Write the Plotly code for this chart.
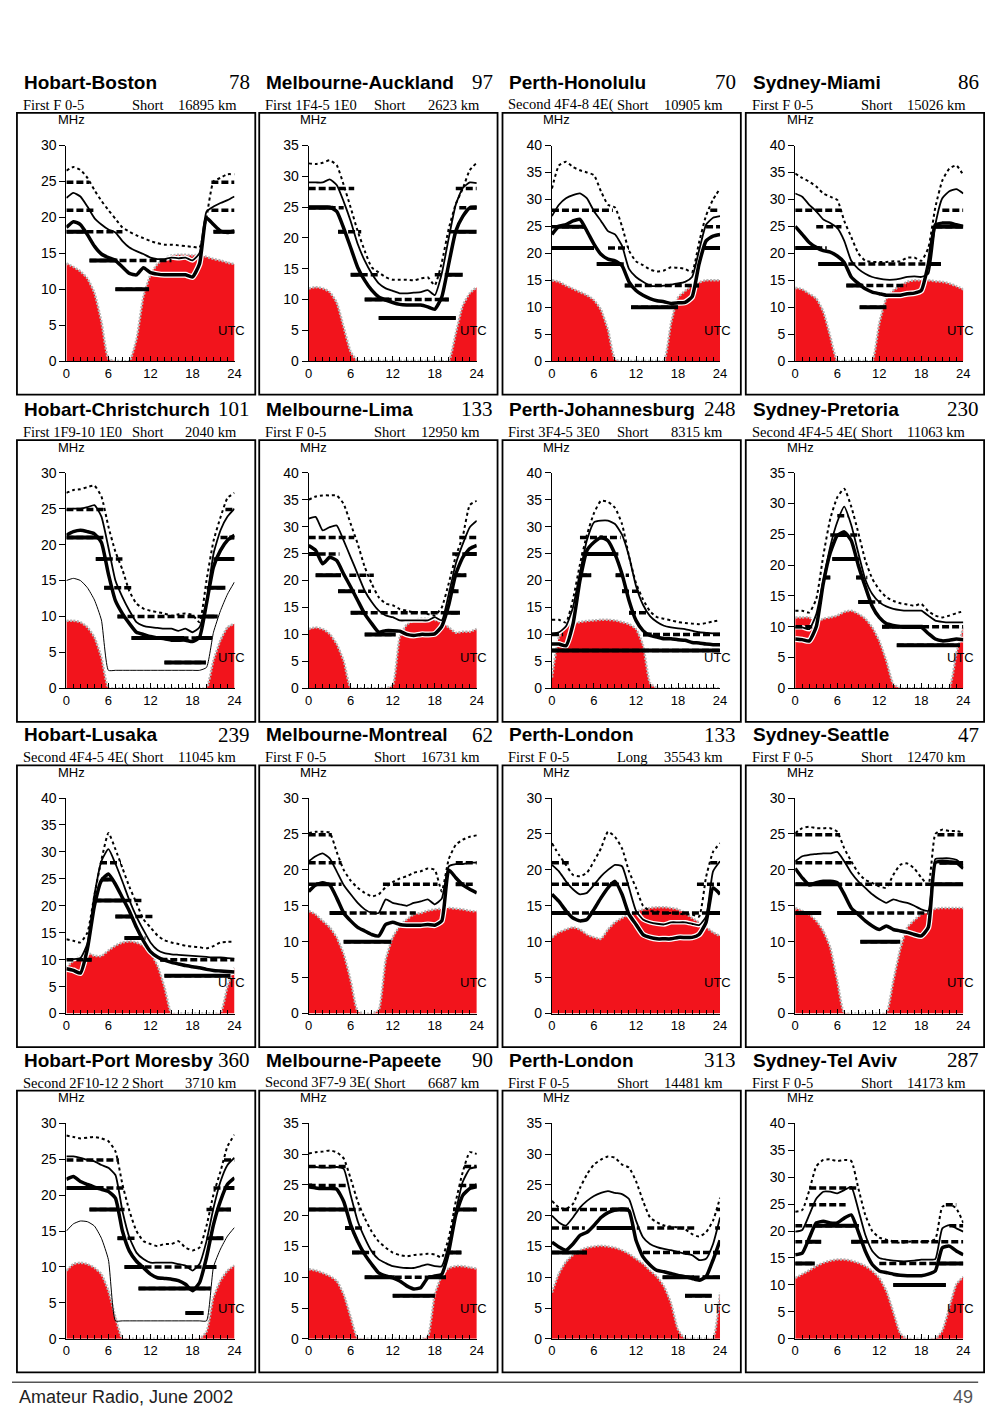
import numpy as np
import plotly.graph_objects as go

# Hours UTC (one value per hour, 0..24)
hours = list(range(25))

paths = ["Hobart-Boston", "Melbourne-Auckland", "Perth-Honolulu", "Sydney-Miami",
         "Hobart-Christchurch", "Melbourne-Lima", "Perth-Johannesburg", "Sydney-Pretoria",
         "Hobart-Lusaka", "Melbourne-Montreal", "Perth-London", "Sydney-Seattle",
         "Hobart-Port Moresby", "Melbourne-Papeete", "Perth-London", "Sydney-Tel Aviv"]
bearings = ["78", "97", "70", "86", "101", "133", "248", "230",
            "239", "62", "133", "47", "360", "90", "313", "287"]
modes = ["First F 0-5", "First 1F4-5 1E0", "Second 4F4-8 4E(", "First F 0-5",
         "First 1F9-10 1E0", "First F 0-5", "First 3F4-5 3E0", "Second 4F4-5 4E(",
         "Second 4F4-5 4E(", "First F 0-5", "First F 0-5", "First F 0-5",
         "Second 2F10-12 2", "Second 3F7-9 3E(", "First F 0-5", "First F 0-5"]
routes = ["Short", "Short", "Short", "Short", "Short", "Short", "Short", "Short",
          "Short", "Short", "Long", "Short", "Short", "Short", "Short", "Short"]
distances = ["16895 km", "2623 km", "10905 km", "15026 km", "2040 km", "12950 km", "8315 km", "11063 km",
             "11045 km", "16731 km", "35543 km", "12470 km", "3710 km", "6687 km", "14481 km", "14173 km"]
y_max = [30, 35, 40, 40, 30, 40, 40, 35, 40, 30, 30, 30, 30, 35, 35, 40]

# upper decile MUF (dotted)
upper = [
    [26.5, 27, 26.6, 25.5, 23.8, 22.3, 21, 19.8, 18.6, 18, 17.5, 17.1, 16.7, 16.4, 16.2, 16.2, 16.1, 16, 15.9, 15.8, 20, 25, 25.5, 26, 26],
    [32.1, 32, 32.2, 32.6, 31.8, 28.6, 24.9, 21.1, 17.9, 15.2, 14.4, 13.6, 13.2, 13.2, 13.2, 13.1, 13.4, 13.6, 12.3, 16, 21.5, 25.5, 28, 31, 32.2],
    [32, 36.3, 37, 36, 35.4, 35, 34.5, 31.5, 29, 28.5, 25, 20.5, 18.5, 17.8, 17, 16.6, 16.8, 17.4, 17.3, 17.1, 16.5, 22, 27, 30, 32],
    [34.8, 34, 33.3, 32.4, 31.1, 30.5, 29.9, 26, 23, 20, 18.6, 18.4, 18.4, 18.4, 18.5, 18.5, 19.2, 19.2, 18.6, 21, 28.5, 33.5, 35.7, 36.3, 34.5],
    [27.2, 27.6, 27.7, 28, 28.2, 26.7, 22.5, 19, 16.5, 13.5, 11.8, 11.1, 10.8, 10.6, 10.4, 10.1, 10.3, 10.4, 10.2, 9.2, 15, 20.5, 23.8, 26.5, 27.2],
    [35, 35.6, 35.8, 35.8, 35.8, 34.2, 30.5, 26.8, 22.5, 19.4, 16.9, 15.7, 15.4, 14.7, 14.4, 14.1, 14.1, 13.8, 13.5, 15, 19.5, 24.5, 28.2, 34, 34.8],
    [12.7, 12.7, 12.2, 16.5, 23, 28.5, 32.5, 34.8, 34.6, 33.5, 30.5, 24.5, 19.5, 16.5, 14.3, 13.2, 12.9, 12.6, 12.3, 12.1, 12, 11.9, 12.1, 12.4, 12.6],
    [12.6, 12.6, 12.3, 14.5, 21.5, 27.5, 31, 32.4, 29.5, 25.3, 20.8, 17.8, 16, 14.8, 14.2, 13.8, 13.6, 13.4, 13.7, 12.5, 11.8, 11.5, 11.8, 12.2, 12.5],
    [13.8, 13.5, 13.2, 15, 22, 28.5, 33.5, 30.5, 27, 23.5, 20.5, 17.5, 16, 14.5, 13.6, 13.2, 12.9, 12.6, 12.4, 12.3, 12.1, 12.5, 13.2, 13.3, 13.3],
    [25.1, 25.3, 25.3, 25.2, 22.5, 20, 18.5, 17.5, 16.8, 16.3, 16.6, 17.6, 18.3, 18.8, 19.1, 19.6, 19.8, 20.2, 20, 17, 21.5, 23.5, 24.2, 24.6, 24.8],
    [23.7, 22.1, 20.7, 19.3, 19.1, 19.6, 21.2, 23, 25.3, 24.6, 23, 19.8, 17.5, 15, 14.3, 14.2, 14, 14, 13.9, 13.8, 13.8, 13.5, 19, 22.5, 23.7],
    [25.1, 25.8, 26, 25.8, 25.8, 25.8, 25.3, 23, 21.2, 19.6, 18.6, 18.2, 17.7, 17.5, 19.3, 20.7, 20.9, 20.2, 18.9, 17.9, 25, 25.6, 25.4, 25.4, 25.2],
    [28.3, 28.1, 27.9, 28, 28.1, 27.9, 27.5, 26.1, 21.5, 17.8, 15, 13.6, 13.2, 12.9, 13.2, 13.2, 13.6, 12.7, 12.3, 12.7, 15.7, 20.1, 23.3, 26.8, 28.4],
    [30.1, 30.3, 30.4, 30.6, 30.3, 29.3, 26, 22.3, 19.6, 17.4, 15.8, 14.8, 14, 13.6, 13.4, 13.6, 13.7, 13.8, 13.7, 13.2, 16.4, 22.3, 27.1, 30.3, 30],
    [22.4, 21.3, 21.1, 21.9, 24.5, 26.7, 28.3, 29.1, 29.6, 29.4, 28.3, 27.8, 25.6, 22.4, 19.7, 18.9, 18.4, 18.2, 18.1, 17.8, 17, 16.6, 17.3, 19.2, 22.9],
    [23.6, 23.9, 27.5, 32, 33.2, 33.3, 33, 33.2, 33, 28, 23, 20, 18.8, 18.4, 18.1, 17.8, 18, 18.1, 18, 18.1, 18.5, 24.5, 25, 24.2, 21.5],
]

# median MUF (thin solid)
median = [
    [22.7, 23.4, 22.9, 21.5, 19.9, 19, 18.3, 17.9, 16.7, 15.8, 15.3, 14.9, 14.4, 14.2, 14.2, 14.4, 14.3, 14.4, 14, 15, 20.8, 21.5, 22, 22.4, 22.9],
    [29, 29, 29, 29.5, 28.6, 25.9, 22.7, 19, 16.3, 14.2, 12.6, 11.8, 11.4, 11, 11, 11.1, 11.2, 11.5, 10.7, 14.2, 20, 25.4, 28.1, 29, 28.9],
    [26.9, 29, 30.2, 30.8, 31.1, 30.2, 27.8, 26, 24.1, 23.5, 21.4, 17.1, 15.6, 14.7, 14, 13.9, 14, 14.2, 14.4, 14.7, 15.6, 20.5, 25.3, 26.6, 26.9],
    [31.1, 30.5, 29, 27.8, 26.3, 25.6, 24.7, 22.3, 18.6, 17.1, 16.2, 15.6, 15.3, 15.1, 15.1, 15.3, 15.6, 15.7, 15.6, 16.2, 25.3, 30.2, 31.5, 31.9, 31.1],
    [24.8, 25, 25, 25.2, 25.5, 23.9, 19.6, 15, 12.7, 10.8, 9.2, 8.7, 8.5, 8.4, 8.3, 8.3, 8, 8.3, 7.8, 8.5, 12.2, 18.7, 22, 23.9, 25],
    [31.5, 31.8, 29.3, 29.9, 30.2, 27.4, 24.3, 21.2, 18.1, 16, 14.4, 13.5, 13.2, 12.6, 12.6, 12.6, 12.6, 12.6, 13.2, 12.6, 17.5, 23.1, 26.8, 29.9, 31.1],
    [10.2, 10.4, 11.5, 15, 21.5, 27.5, 30.8, 31.1, 31.1, 30.5, 28.5, 24.5, 19, 15.5, 13.4, 12.3, 11.6, 11.3, 11.1, 11, 10.7, 10.4, 10.3, 10.2, 10.2],
    [9.9, 9.9, 9.6, 12, 17.5, 23, 27, 29.5, 26.5, 22, 17.7, 15.3, 14, 13.3, 12.9, 12.7, 12.6, 12.6, 12.6, 11.8, 11, 10.8, 10.7, 10.7, 10.7],
    [10.1, 10.1, 10.3, 13, 22, 28.3, 30.5, 27.8, 24.5, 21, 18, 15.5, 13.2, 11.8, 11.2, 11, 10.9, 10.8, 10.7, 10.6, 10.5, 10.4, 10.4, 10.3, 10.2],
    [21.2, 21.9, 22.3, 21.6, 19.8, 17.9, 16.6, 15.4, 14.5, 14, 14, 15.9, 15.4, 15.2, 15, 15.4, 15.6, 15.9, 15.2, 16, 20.5, 20.8, 20.8, 21, 21],
    [20.7, 19.8, 18.4, 17.3, 16.6, 16.8, 17.9, 19.1, 20, 20.7, 20.5, 17.5, 14.3, 13.1, 12.7, 12.5, 12.4, 12.7, 12.7, 12.7, 12.5, 12.3, 13.5, 19.8, 21.2],
    [21.2, 21.9, 22.1, 22.2, 22.3, 22.3, 22.5, 21.2, 19.6, 18.4, 17.5, 16.6, 15.9, 15.4, 15.9, 15.6, 15.4, 15, 14.5, 14.3, 21.5, 21.6, 21.6, 21.4, 20.6],
    [25.4, 25.4, 25.2, 24.9, 24.7, 24.2, 23.8, 22.8, 17.8, 14.1, 12, 11.1, 10.6, 10.6, 10.6, 10.6, 10.4, 10.2, 9.5, 10.4, 13.6, 18.2, 21.9, 24.2, 25.2],
    [27.9, 27.9, 27.8, 27.8, 27.9, 27.6, 23.3, 19.1, 16.4, 14.2, 12.9, 12.3, 11.8, 11.6, 11.5, 11.5, 11.8, 12.1, 11.8, 11.8, 15.3, 20.7, 25.5, 27.6, 27.9],
    [20, 18.9, 18.4, 19.7, 21.3, 22.4, 23.2, 23.7, 24, 23.7, 23.5, 22.7, 19.2, 16.5, 15.4, 14.9, 14.6, 14.4, 14.1, 13.8, 13.6, 12.8, 13, 15.4, 19.7],
    [19.9, 20.2, 23, 26, 27.3, 27.3, 27, 27.6, 28.2, 24, 19.3, 16.3, 15, 14.7, 14.5, 14.4, 14.4, 14.5, 14.7, 14.7, 14.8, 20.5, 21.1, 20.5, 19.9],
]

# optimum working frequency (thick solid)
optimum = [
    [18.6, 19.4, 19, 17.6, 16, 14.9, 14.4, 14, 13.1, 12.2, 12, 13, 12.3, 12.1, 12, 12, 12, 12, 11.7, 13.5, 19.9, 19, 18.1, 17.9, 18.1],
    [25, 25, 25, 25, 24.3, 21.6, 18.4, 15.2, 13.1, 11.5, 10.4, 9.9, 9.5, 9.2, 9.1, 9.1, 9.1, 8.8, 8.4, 10.4, 15.8, 21.1, 23.5, 24.9, 25],
    [23.5, 25, 25.3, 26, 26.3, 24.1, 21.7, 19.8, 18.9, 18.6, 17.7, 14.7, 13.1, 12.2, 11.6, 11.2, 11, 10.7, 10.8, 10.9, 11.9, 18, 22.3, 23.2, 23.5],
    [25, 23.5, 22, 21.1, 20.5, 20.2, 19.5, 18.3, 15.6, 14.4, 13.4, 12.8, 12.5, 12.2, 12.2, 12.2, 12.5, 12.6, 13.1, 18, 25.3, 25.6, 25.6, 25.3, 25],
    [21.3, 21.8, 22, 21.8, 21.5, 20.3, 15.9, 12.2, 10.4, 9, 7.8, 7.5, 7.2, 7, 6.9, 6.7, 6.7, 6.7, 6.5, 7.1, 11.8, 16.9, 19.2, 20.6, 21.3],
    [26.5, 25.6, 23.1, 24.3, 23.7, 21.2, 18.8, 16.3, 13.8, 12, 10.4, 10.7, 10.7, 10.6, 10, 9.8, 10, 10, 10.1, 11.5, 15.5, 21.2, 24.3, 25.9, 26.5],
    [8.2, 8.2, 7.9, 11.9, 20, 25.6, 27.1, 28, 27.4, 24.9, 21.2, 16.3, 12.6, 10.7, 9.8, 9.5, 9.2, 9.2, 9, 8.9, 8.5, 8.4, 8.2, 8.1, 8.1],
    [8, 7.9, 7.7, 10, 17, 22, 24.8, 25.4, 24, 20, 16.5, 13.3, 11.5, 10.5, 10.2, 10, 9.9, 9.9, 9.9, 8.9, 8, 7.7, 7.8, 8, 7.9],
    [8.3, 8, 7.5, 12, 20, 24.7, 25.9, 24, 21.5, 19, 16, 13.5, 11.5, 10.5, 9.9, 9.5, 9.2, 8.9, 8.7, 8.5, 8.2, 8, 7.9, 7.8, 7.7],
    [17, 17.9, 18.2, 17.9, 16.1, 14, 12.9, 12, 11.5, 11, 10.8, 12.4, 12.7, 12.4, 12.3, 12.3, 12.3, 12.4, 12.3, 12.9, 20, 18.9, 17.9, 17.3, 16.8],
    [16.6, 15.6, 14.3, 13.3, 12.9, 13.1, 14.5, 16.1, 17.5, 18.4, 16.6, 13.8, 12.4, 11, 10.6, 10.4, 10.4, 10.4, 10.6, 10.6, 10.6, 11, 12.7, 17.5, 16.6],
    [20.2, 18.9, 17.9, 18.2, 18.4, 18.4, 18.2, 16.6, 14.7, 13.8, 12.9, 12.2, 11.7, 12.2, 11.7, 11.5, 11.3, 11, 10.8, 12, 21, 21.2, 21.1, 21, 20.2],
    [22.2, 22.6, 21.9, 21.5, 21.1, 20.8, 20.5, 19.6, 15, 12.2, 10.8, 9.9, 9, 8.5, 8.4, 8.3, 8.1, 7.6, 6.7, 7.8, 11.3, 15.9, 19.2, 21.5, 22.4],
    [24.7, 24.5, 24.4, 24.4, 24.3, 22.3, 18.5, 15.8, 13.7, 12.1, 10.7, 10.2, 9.9, 9.4, 8.6, 8.1, 8.3, 9.9, 10.2, 10.5, 14.2, 20.1, 23.3, 24.4, 24.7],
    [15.7, 14.9, 14.4, 15.4, 16.8, 17.3, 18.4, 19.7, 20.5, 20.9, 21.1, 20.8, 16, 13.3, 12, 11.1, 10.9, 10.6, 10.3, 10.1, 9.8, 9.5, 10.1, 12.8, 16],
    [15.6, 15.9, 18.7, 21.5, 21.8, 21.5, 21.5, 22.4, 23, 19.9, 16.3, 13.8, 12.6, 12.3, 12, 11.8, 11.7, 11.7, 11.7, 12, 12.6, 16.9, 17.2, 16.3, 15.6],
]

# absorption limiting frequency (red area)
absorption = [
    [13.6, 13.1, 12.5, 11.5, 9.5, 5.5, 0.3, 0, 0, 0, 3, 9, 12, 13.5, 14.3, 14.7, 14.8, 14.8, 14.7, 14.8, 14.5, 14.2, 14, 13.7, 13.5],
    [11.8, 12, 11.8, 11.2, 9.5, 5.5, 1.5, 0, 0, 0, 0, 0, 0, 0, 0, 0, 0, 0, 0, 0, 0, 4.5, 9, 11, 12],
    [15, 14.7, 14, 13.4, 12.8, 12.2, 11.3, 9.5, 5.8, 0.3, 0, 0, 0, 0, 0, 0, 0, 7, 11.8, 13, 14, 14.6, 15, 15, 15],
    [13.6, 13.3, 12.5, 11.6, 9.2, 4.6, 0, 0, 0, 0, 0, 0, 7, 11.6, 13.1, 14, 14.7, 15, 15, 15, 14.8, 14.7, 14.4, 13.9, 13.3],
    [9.4, 9.4, 9.2, 8.5, 7.1, 4.3, 0, 0, 0, 0, 0, 0, 0, 0, 0, 0, 0, 0, 0, 0, 0, 3.9, 6.7, 8.5, 9],
    [11, 11.3, 11, 10.1, 8.2, 5.1, 0, 0, 0, 0, 0, 0, 0.5, 9.5, 11.8, 12.6, 12.9, 12.9, 12.7, 12.2, 11.3, 10.3, 10.5, 10.5, 11],
    [2, 9.5, 11.5, 12, 12.3, 12.5, 12.6, 12.7, 12.7, 12.6, 12.3, 11.9, 11, 8, 1, 0, 0, 0, 0, 0, 0, 0, 0, 0, 0],
    [11.5, 11.5, 11.5, 10.7, 11.3, 11.5, 11.8, 12.4, 12.6, 12.1, 11.3, 9.9, 7.7, 4.5, 0.7, 0, 0, 0, 0, 0, 0, 0, 0, 5.6, 9.9],
    [8.5, 9.8, 10.7, 11.3, 10.7, 10.7, 11.7, 12.6, 13.2, 13.4, 13.2, 12.6, 11.3, 8.9, 4.9, 0, 0, 0, 0, 0, 0, 0, 0, 5, 8.5],
    [14.3, 13.8, 12.9, 12, 10.6, 8.3, 4.6, 0.3, 0, 0, 0.5, 7.5, 10.6, 12.2, 13.1, 13.8, 14, 14.3, 14.5, 14.6, 14.7, 14.6, 14.5, 14.3, 14.2],
    [10.6, 11.3, 11.7, 12, 11.7, 11, 10.6, 10.4, 11.7, 12.7, 13.3, 13.8, 14.2, 14.5, 14.7, 14.8, 14.8, 14.7, 14.5, 14, 13.3, 12.7, 12, 11.3, 10.8],
    [14.7, 14.3, 13.8, 12.9, 11.5, 9.2, 4.6, 0, 0, 0, 0, 0, 0, 0, 4.5, 9, 12, 13, 13.8, 14.3, 14.6, 14.7, 14.7, 14.7, 14.7],
    [9.5, 10.4, 10.6, 10.4, 9.9, 9, 6.7, 3, 0, 0, 0, 0, 0, 0, 0, 0, 0, 0, 0, 0, 1, 5.8, 8.1, 9.5, 10.2],
    [11.3, 11.1, 10.7, 10.2, 9.4, 7.2, 3.5, 0, 0, 0, 0, 0, 0, 0, 0, 0, 0, 0.3, 7.2, 10.2, 11.5, 11.8, 11.8, 11.6, 11.4],
    [7.5, 10.6, 12.5, 13.6, 14.4, 14.8, 15, 15.1, 15, 14.8, 14.4, 13.8, 13, 12.2, 11.1, 10.1, 8.5, 5.8, 1.5, 0, 0, 0, 0, 0, 7.5],
    [11.3, 12, 12.7, 13.5, 14.1, 14.5, 14.7, 14.7, 14.5, 14.1, 13.5, 12.6, 11.3, 8.9, 5, 1, 0, 0, 0, 0, 0, 1.5, 5.8, 10.1, 11.5],
]

# E-layer MUF (thin line), only on the two short paths that show it
e_layer = {
    4: [15, 15.3, 15, 14, 12.3, 9.5, 2.5, 2.5, 2.5, 2.5, 2.5, 2.5, 2.5, 2.5, 2.5, 2.5, 2.5, 2.5, 2.5, 2.5, 2.9, 7.8, 10.8, 13.1, 14.8],
    12: [15, 16, 16.4, 16.3, 15.7, 14, 11, 2.5, 2.5, 2.5, 2.5, 2.5, 2.5, 2.5, 2.5, 2.5, 2.5, 2.5, 2.5, 2.5, 2.5, 10, 12.5, 14.3, 15.5],
}

# amateur band openings: (MHz, from hour, to hour)
bands = [
    [(24.9, 0, 3.3), (24.9, 20.7, 24), (21, 0, 4.2), (21, 20.7, 24), (18, 0, 8), (18, 21, 24), (14, 3.3, 15), (10, 7, 11.8)],
    [(28, 0, 6.5), (28, 21, 24), (24.9, 0, 5), (24.9, 21.5, 24), (21, 4.2, 7.5), (21, 20, 24), (14, 6, 10), (14, 18, 22), (10, 8, 20), (7, 10, 21)],
    [(28, 0, 8.7), (28, 22.6, 24), (24.9, 0, 4.7), (24.9, 22, 24), (21, 0, 6), (21, 8, 11), (21, 21.6, 24), (18, 6.4, 10.4), (14, 10.4, 21), (10, 11.3, 18)],
    [(28, 0, 6.6), (28, 21, 24), (24.9, 3, 6.6), (24.9, 20, 24), (21, 0, 4.5), (18, 3.3, 20.8), (14, 7.3, 15.9), (10, 9.2, 13)],
    [(24.9, 0, 5.4), (24.9, 22.7, 24), (21, 0, 5.6), (21, 22, 24), (18, 4.2, 8), (18, 21, 24), (14, 5.4, 9.6), (14, 20, 22.7), (10, 7.3, 21.6), (7, 9.3, 20.8), (3.6, 14, 19.9)],
    [(28, 0, 6.5), (28, 21.5, 24), (24.9, 0, 4.4), (24.9, 20.5, 24), (21, 1, 4.6), (21, 5.8, 9.3), (21, 20.7, 22.5), (18, 4.2, 8.9), (18, 20, 21.4), (14, 6, 21.6), (10, 8, 12.4)],
    [(28, 4, 9.8), (24.9, 4.2, 9.8), (21, 4, 5.6), (21, 9.1, 11), (18, 10, 12.4), (14, 11, 13.8), (10, 0, 1.6), (10, 13, 24), (7, 0, 24)],
    [(28, 6, 7.5), (24.9, 5, 9), (21, 5.3, 9.4), (18, 4, 5), (18, 8.7, 10.3), (14, 9, 12.3), (10, 0, 3), (10, 12.4, 24), (7, 14.5, 23.5)],
    [(28, 4.8, 7.8), (24.9, 5, 6.5), (21, 4, 10.8), (18, 7, 12.5), (14, 8.3, 11.3), (10, 0, 3.6), (10, 13.4, 24), (7, 14, 23.4)],
    [(24.9, 0, 3.3), (21, 0, 4.7), (21, 21, 24), (18, 0, 4.7), (18, 10.6, 18.4), (18, 21, 23.5), (14, 3, 15.3), (10, 5, 11.8)],
    [(21, 0, 2.4), (21, 22.6, 24), (18, 0, 11.3), (18, 20.7, 24), (14, 0, 24)],
    [(24.9, 0, 6.4), (24.9, 20.3, 24), (21, 0, 8), (21, 20.6, 24), (18, 0, 24), (14, 0, 3.7), (14, 6, 19), (10, 9.3, 15)],
    [(24.9, 0, 7.5), (24.9, 22.5, 24), (21, 0, 8.3), (21, 21, 24), (18, 3.3, 8.3), (18, 20, 23.5), (14, 7.3, 9.8), (14, 20, 22.4), (10, 8.3, 21.4), (7, 10.3, 20.6), (3.6, 17, 19.6)],
    [(28, 0, 5.7), (28, 22.2, 24), (24.9, 0, 5.4), (24.9, 21.5, 24), (21, 0, 7.3), (21, 20.6, 24), (18, 5.2, 7.6), (14, 6.2, 9.5), (14, 19.6, 21.8), (10, 8, 19.6), (7, 12, 18)],
    [(21, 0, 3.5), (21, 4, 11), (21, 23.5, 24), (18, 0, 4.7), (18, 6.4, 12.5), (18, 13.6, 20.5), (18, 23.3, 24), (14, 0, 5), (14, 13, 24), (10, 15.8, 24), (7, 19, 22.8)],
    [(28, 2, 9.1), (24.9, 2, 7.2), (24.9, 21.5, 23), (21, 0, 9.1), (21, 22, 24), (18, 0, 3.7), (18, 8, 24), (14, 0, 2.8), (14, 12, 24), (10, 14, 21.5)],
]

# page is shown with the browser's 8px body margin, so the figure is placed 8px in
PAGE_W, PAGE_H, OFF = 1000, 1418, 8
W, H = PAGE_W - OFF, PAGE_H - OFF
col_left = [13, 258, 504, 750]
row_top = [106, 437, 766, 1095]
RED = "#f2141c"
SANS = "Liberation Sans, Arial, sans-serif"
SERIF = "Liberation Serif, Times New Roman, serif"


def px(x):
    return (x - OFF) / W


def py(y):
    return 1 - (y - OFF) / H


def split_bands(segs, owf):
    # whole opening dashed, the part at or below the OWF drawn solid on top
    dx, dy, sx, sy = [], [], [], []
    for f, a, b in segs:
        dx += [a, b, None]
        dy += [f, f, None]
        hh = np.linspace(a, b, max(2, int(round((b - a) / 0.25)) + 1))
        ok = np.interp(hh, hours, owf) >= f - 0.3
        run = []
        for h, k in zip(hh, ok):
            if k:
                run.append(float(h))
            elif run:
                sx += [run[0], run[-1], None]
                sy += [f, f, None]
                run = []
        if run:
            sx += [run[0], run[-1], None]
            sy += [f, f, None]
    return dx, dy, sx, sy


fig = go.Figure()
shapes, annotations = [], []
layout = {}


def note(text, x, y, anchor, size, family, weight="normal", color="black"):
    annotations.append(dict(text=text, x=px(x), y=py(y), xref="paper", yref="paper",
                            xanchor=anchor, yanchor="middle", showarrow=False,
                            font=dict(family=family, size=size, color=color, weight=weight)))


for i in range(16):
    r, c = divmod(i, 4)
    bl, bt = col_left[c], row_top[r]
    n = "" if i == 0 else str(i + 1)
    xa, ya = "x" + n, "y" + n
    common = dict(xaxis=xa, yaxis=ya, mode="lines", hoverinfo="skip", showlegend=False)
    smooth = dict(shape="spline", smoothing=0.5)

    # absorption area
    fig.add_trace(go.Scatter(x=hours, y=absorption[i], fill="tozeroy", fillcolor=RED,
                             line=dict(color="#b4b4b4", width=2.5, dash="2px,1.5px", **smooth), **common))
    # white halos under the black curves
    for ys, w in [(median[i], 4.5), (optimum[i], 6)]:
        fig.add_trace(go.Scatter(x=hours, y=ys, line=dict(color="white", width=w, **smooth), **common))
    dx, dy, sx, sy = split_bands(bands[i], optimum[i])
    fig.add_trace(go.Scatter(x=dx, y=dy, line=dict(color="black", width=3.5, dash="7px,3px"), **common))
    fig.add_trace(go.Scatter(x=sx, y=sy, line=dict(color="black", width=4), **common))
    if i in e_layer:
        fig.add_trace(go.Scatter(x=hours, y=e_layer[i], line=dict(color="black", width=1, **smooth), **common))
    fig.add_trace(go.Scatter(x=hours, y=upper[i], line=dict(color="black", width=2, dash="3px,3px", **smooth), **common))
    fig.add_trace(go.Scatter(x=hours, y=median[i], line=dict(color="black", width=1.8, **smooth), **common))
    fig.add_trace(go.Scatter(x=hours, y=optimum[i], line=dict(color="black", width=3.5, **smooth), **common))

    layout["xaxis" + n] = dict(
        domain=[px(bl + 50), px(bl + 220)], range=[0, 24], anchor=ya,
        tickvals=[0, 6, 12, 18, 24], ticks="inside", ticklen=5, tickcolor="black",
        minor=dict(dtick=1, tick0=0, ticks="inside", ticklen=4, tickcolor="black"),
        showline=True, linecolor="black", linewidth=1, showgrid=False, zeroline=False,
        tickfont=dict(family=SANS, size=13, color="black"), fixedrange=True)
    layout["yaxis" + n] = dict(
        domain=[py(bt + 251), py(bt + 33)], range=[0, y_max[i]], anchor=xa,
        dtick=5, ticks="outside", ticklen=6, tickcolor="black",
        showline=True, linecolor="black", linewidth=1, showgrid=False, zeroline=False,
        tickfont=dict(family=SANS, size=14, color="black"), fixedrange=True)

    # panel frame
    shapes.append(dict(type="rect", xref="paper", yref="paper",
                       x0=px(bl), x1=px(bl + 241), y0=py(bt + 285), y1=py(bt),
                       line=dict(color="black", width=1.8)))

    note(paths[i], bl + 5, bt - 31, "left", 19, SANS, "bold")
    note(bearings[i], bl + 238, bt - 31, "right", 21, SERIF)
    note(modes[i], bl + 4, bt - 8, "left", 14.5, SERIF)
    note(routes[i], bl + 114, bt - 8, "left", 14.5, SERIF)
    note(distances[i], bl + 225, bt - 8, "right", 14.5, SERIF)
    note("MHz", bl + 55, bt + 7, "center", 13, SANS)
    note("UTC", bl + 217, bt + 220, "center", 13, SANS)

# footer
shapes.append(dict(type="line", xref="paper", yref="paper", x0=0, x1=px(985),
                   y0=py(1390), y1=py(1390), line=dict(color="#555555", width=1.5)))
note("Amateur Radio, June 2002", 13, 1405, "left", 18, SANS, color="#222222")
note("49", 982, 1405, "right", 18, SANS, color="#555555")

fig.update_layout(width=W, height=H, margin=dict(l=0, r=0, t=0, b=0),
                  paper_bgcolor="white", plot_bgcolor="white",
                  shapes=shapes, annotations=annotations, hovermode=False, **layout)
fig.write_html("out.html")
